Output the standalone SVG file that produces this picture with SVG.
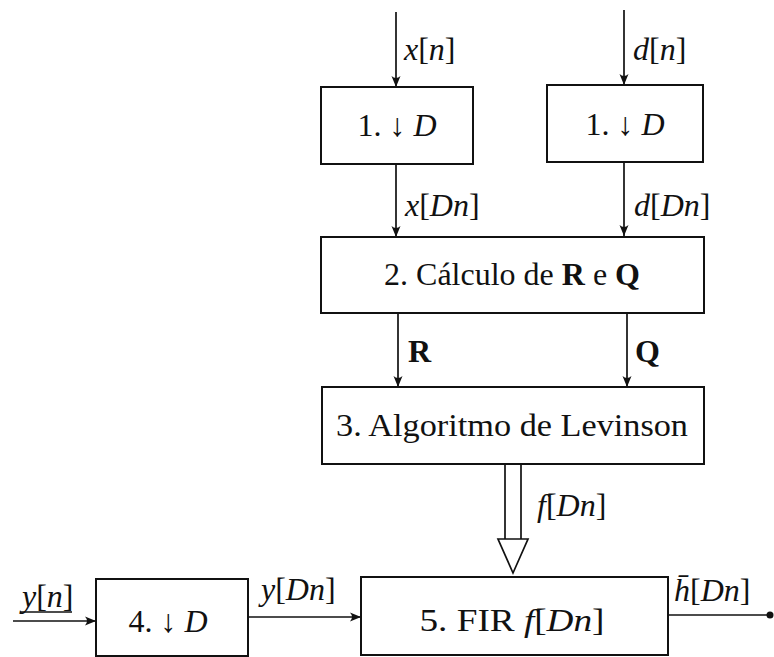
<svg xmlns="http://www.w3.org/2000/svg" width="774" height="657" viewBox="0 0 774 657">
<style>
.box{fill:#fff;stroke:#111;stroke-width:2}
.ln{fill:none;stroke:#111;stroke-width:1.7}
.t{font-family:"Liberation Serif","DejaVu Serif",serif;font-size:32px;fill:#111}
.lb{font-family:"Liberation Serif","DejaVu Serif",serif;font-size:32px;fill:#111}
.i{font-style:italic}
.b{font-weight:bold}
</style>
<defs>
<marker id="ah" markerUnits="userSpaceOnUse" markerWidth="12" markerHeight="10" viewBox="0 0 12 10" refX="11" refY="5" orient="auto">
<path d="M0,0.5 Q4,5 0,9.5 L11,5 Z" fill="#111"/>
</marker>
</defs>
<g id="connectors">
<line class="ln" x1="396" y1="12" x2="396" y2="87" marker-end="url(#ah)"/>
<line class="ln" x1="624" y1="10" x2="624" y2="85" marker-end="url(#ah)"/>
<line class="ln" x1="396" y1="164" x2="396" y2="237" marker-end="url(#ah)"/>
<line class="ln" x1="624" y1="162" x2="624" y2="236" marker-end="url(#ah)"/>
<line class="ln" x1="398" y1="313" x2="398" y2="387" marker-end="url(#ah)"/>
<line class="ln" x1="627" y1="313" x2="627" y2="387" marker-end="url(#ah)"/>
<line class="ln" x1="505" y1="464" x2="505" y2="539"/>
<line class="ln" x1="521" y1="464" x2="521" y2="539"/>
<polygon class="ln" points="498,539 528,539 513,573"/>
<line class="ln" x1="13" y1="621" x2="96" y2="621" marker-end="url(#ah)"/>
<line class="ln" x1="248" y1="617" x2="361" y2="617" marker-end="url(#ah)"/>
<line class="ln" x1="668" y1="615" x2="770" y2="615"/>
<circle cx="770" cy="615" r="3.5" fill="#111"/>
<line class="ln" x1="20" y1="612" x2="72" y2="612"/>
</g>
<g id="labels">
<text class="lb" x="404" y="60"><tspan class="i">x</tspan>[<tspan class="i">n</tspan>]</text>
<text class="lb" x="633" y="60"><tspan class="i">d</tspan>[<tspan class="i">n</tspan>]</text>
<text class="lb" x="405" y="216"><tspan class="i">x</tspan>[<tspan class="i">Dn</tspan>]</text>
<text class="lb" x="634" y="216"><tspan class="i">d</tspan>[<tspan class="i">Dn</tspan>]</text>
<text class="lb b" x="408" y="362">R</text>
<text class="lb b" x="635" y="362">Q</text>
<text class="lb" x="537" y="516"><tspan class="i">f</tspan>[<tspan class="i">Dn</tspan>]</text>
<text class="lb" x="22" y="607"><tspan class="i">y</tspan>[<tspan class="i">n</tspan>]</text>
<text class="lb" x="261" y="600"><tspan class="i">y</tspan>[<tspan class="i">Dn</tspan>]</text>
<text class="lb" x="674" y="601"><tspan class="i">h̄</tspan>[<tspan class="i">Dn</tspan>]</text>
</g>
<g id="n1a">
<rect class="box" x="321" y="87" width="152" height="77"/>
<text class="t" x="397" y="136" text-anchor="middle">1. ↓ <tspan class="i">D</tspan></text>
</g>
<g id="n1b">
<rect class="box" x="547" y="85" width="156" height="77"/>
<text class="t" x="625" y="135" text-anchor="middle">1. ↓ <tspan class="i">D</tspan></text>
</g>
<g id="n2">
<rect class="box" x="321" y="237" width="383" height="76"/>
<text class="t" x="512" y="285" text-anchor="middle">2. Cálculo de <tspan class="b">R</tspan> e <tspan class="b">Q</tspan></text>
</g>
<g id="n3">
<rect class="box" x="322" y="387" width="382" height="77"/>
<text class="t" x="512" y="436" text-anchor="middle" textLength="352" lengthAdjust="spacingAndGlyphs">3. Algoritmo de Levinson</text>
</g>
<g id="n4">
<rect class="box" x="96" y="579" width="152" height="77"/>
<text class="t" x="168" y="632" text-anchor="middle">4. ↓ <tspan class="i">D</tspan></text>
</g>
<g id="n5">
<rect class="box" x="361" y="577" width="307" height="78"/>
<text class="t" x="512" y="631" text-anchor="middle" textLength="185" lengthAdjust="spacingAndGlyphs">5. FIR <tspan class="i">f</tspan>[<tspan class="i">Dn</tspan>]</text>
</g>
</svg>
